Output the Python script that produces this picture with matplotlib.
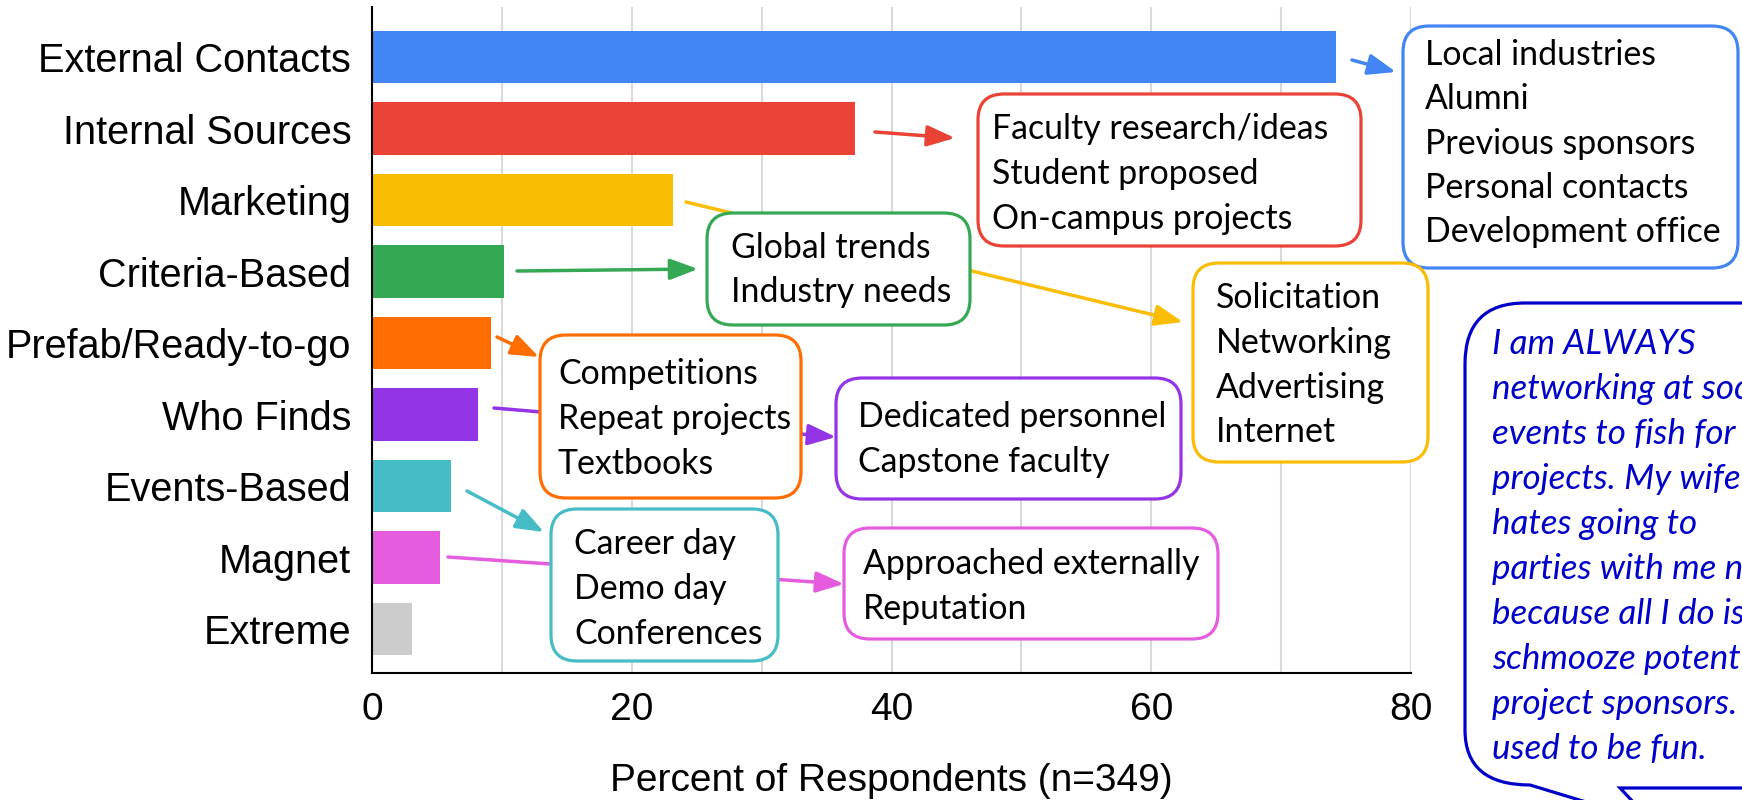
import matplotlib
matplotlib.use("Agg")
import matplotlib.pyplot as plt
from matplotlib.patches import FancyBboxPatch, FancyArrowPatch, PathPatch
from matplotlib.path import Path
from matplotlib.transforms import IdentityTransform

categories = ["External Contacts", "Internal Sources", "Marketing", "Criteria-Based",
              "Prefab/Ready-to-go", "Who Finds", "Events-Based", "Magnet", "Extreme"]
percents = [74.2, 37.2, 23.2, 10.2, 9.2, 8.2, 6.1, 5.2, 3.1]
bar_colors = ["#4285F4", "#EA4335", "#FBBC04", "#34A853", "#FF6D01",
              "#9334E6", "#46BDC6", "#E65CDF", "#CCCCCC"]
x_ticks = [0, 20, 40, 60, 80]
x_label = "Percent of Respondents (n=349)"

# callout texts
external_notes = ["Local industries", "Alumni", "Previous sponsors", "Personal contacts", "Development office"]
internal_notes = ["Faculty research/ideas", "Student proposed", "On-campus projects"]
marketing_notes = ["Solicitation", "Networking", "Advertising", "Internet"]
criteria_notes = ["Global trends", "Industry needs"]
prefab_notes = ["Competitions", "Repeat projects", "Textbooks"]
whofinds_notes = ["Dedicated personnel", "Capstone faculty"]
events_notes = ["Career day", "Demo day", "Conferences"]
magnet_notes = ["Approached externally", "Reputation"]
quote_lines = ["I am ALWAYS", "networking at social", "events to fish for", "projects. My wife",
               "hates going to", "parties with me now", "because all I do is",
               "schmooze potential", "project sponsors. It", "used to be fun."]

plt.rcParams['font.family'] = 'Liberation Sans'

W, H = 1742, 800
fig = plt.figure(figsize=(W / 100, H / 100), dpi=100)
ax = fig.add_axes([372 / W, 1 - 673 / H, 1039 / W, 666 / H])

y = list(range(len(categories)))
ax.barh(y, percents, height=0.73, color=bar_colors, zorder=2)
ax.set_ylim(8.615, -0.7)
ax.set_xlim(0, 80)
ax.set_xticks(x_ticks)
ax.set_xticks([10, 30, 50, 70], minor=True)
ax.grid(axis='x', which='both', color='#d9d9d9', lw=1.5)
ax.set_axisbelow(True)
ax.set_yticks(y, categories)
ax.tick_params(which='both', length=0)
ax.tick_params(axis='y', pad=15, labelsize=28.5)
ax.tick_params(axis='x', pad=14, labelsize=28)
ax.spines['top'].set_visible(False)
ax.spines['right'].set_visible(False)
ax.spines['left'].set_linewidth(1.5)
ax.spines['bottom'].set_linewidth(1.5)
ax.set_xlabel(x_label, fontsize=28, labelpad=25)

px = IdentityTransform()
box_font = 24.4


def arrow(p0, p1, color):
    fig.add_artist(FancyArrowPatch((p0[0], H - p0[1]), (p1[0], H - p1[1]), transform=px,
                                   arrowstyle='-|>,head_length=0.85,head_width=0.32',
                                   mutation_scale=20, lw=2.5, color=color,
                                   shrinkA=0, shrinkB=0, zorder=2))


def callout(box, color, lines, tx, ty, step=44.8):
    l, t, r, b = box
    fig.add_artist(FancyBboxPatch((l, H - b), r - l, b - t, transform=px,
                                  boxstyle="round,pad=0,rounding_size=26",
                                  ec=color, fc='white', lw=2.3, zorder=3))
    for i, line in enumerate(lines):
        fig.text(tx, H - (ty + 12 + i * step), line, transform=px, ha='left', va='baseline',
                 fontsize=box_font, family='Lato', zorder=4)


# arrows from bars to the boxes (drawn under the boxes)
arrow((1352, 60), (1396, 72), bar_colors[0])
arrow((875, 132), (955, 138), bar_colors[1])
arrow((686, 202), (1183, 322), bar_colors[2])
arrow((517, 271), (698, 269), bar_colors[3])
arrow((497, 337), (539, 357), bar_colors[4])
arrow((494, 408), (836, 437), bar_colors[5])
arrow((467, 491), (544, 532), bar_colors[6])
arrow((448, 557), (844, 584), bar_colors[7])

callout((1403, 26, 1738, 268), bar_colors[0], external_notes, 1425, 53, 44.3)
callout((978, 94, 1361, 246), bar_colors[1], internal_notes, 992, 127)
callout((1193, 263, 1428, 462), bar_colors[2], marketing_notes, 1216, 296)
callout((707, 213, 970, 325), bar_colors[3], criteria_notes, 731, 246, 44)
callout((540, 335, 801, 498), bar_colors[4], prefab_notes, 558, 372)
callout((836, 378, 1181, 499), bar_colors[5], whofinds_notes, 858, 415)
callout((551, 509, 778, 661), bar_colors[6], events_notes, 574, 542)
callout((844, 528, 1218, 639), bar_colors[7], magnet_notes, 863, 562)

# speech bubble with quote, running off the right edge like the original
q_color = '#0000C8'
verts = [(1465, 364), (1465, 730), (1465, 785), (1530, 785), (1652, 822), (1620, 788),
         (1800, 788), (1800, 303), (1525, 303), (1465, 303), (1465, 364)]
codes = [Path.MOVETO, Path.LINETO, Path.CURVE3, Path.CURVE3, Path.LINETO, Path.LINETO,
         Path.LINETO, Path.LINETO, Path.LINETO, Path.CURVE3, Path.CURVE3]
bubble = Path([(vx, H - vy) for vx, vy in verts], codes)
fig.add_artist(PathPatch(bubble, transform=px, ec=q_color, fc='white', lw=2.3, zorder=3))
for i, line in enumerate(quote_lines):
    fig.text(1492, H - (342 + 12 + i * 45), line, transform=px, ha='left', va='baseline',
             fontsize=25.2, family='Lato', style='italic', color=q_color, zorder=4)

fig.savefig('out.png', dpi=100)
